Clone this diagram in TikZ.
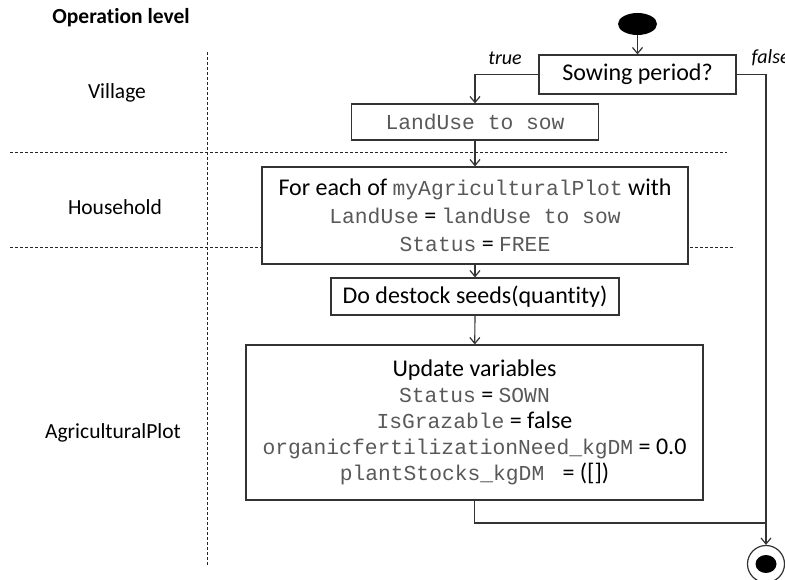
\documentclass[tikz,border=0pt]{standalone}
\usepackage{fontspec}
\setmainfont{Carlito}[Ligatures=NoCommon]
\setmonofont{Liberation Mono}
\usetikzlibrary{arrows.meta,shapes.geometric}

\newcommand{\cd}[1]{{\ttfamily\fontsize{21.3}{27}\selectfont\color{black!65}#1}}

\tikzset{
	actbox/.style={draw=black!80, line width=1.2pt, fill=white, inner sep=0pt, align=center, font=\fontsize{24}{28}\selectfont},
	lvl/.style={font=\fontsize{21.5}{26}\selectfont},
	guard/.style={font=\fontsize{20}{24}\selectfont\itshape},
	flow/.style={line width=1.2pt, draw=black!80, -{Straight Barb[length=6pt,width=10pt]}},
	wire/.style={line width=1.2pt, draw=black!80},
	sep/.style={dash pattern=on 3pt off 2pt, line width=0.8pt, draw=black!85},
}

\begin{document}
\begin{tikzpicture}[x=1pt,y=-1pt]

	\useasboundingbox (0,0) rectangle (785,580);

	% levels
	\node[lvl, font=\fontsize{21.5}{26}\selectfont\bfseries] (oplevel) at (121,18) {Operation level};
	\node[lvl] (village) at (117,93) {Village};
	\node[lvl] (household) at (115,207) {Household};
	\node[lvl] (agriplot) at (113,433) {AgriculturalPlot};

	\draw[sep] (207,52) -- (207,565);
	\draw[sep] (10,152) -- (727,152);
	\draw[sep] (10,247) -- (735,247);

	% activities
	\node[ellipse, fill=black, minimum width=39, minimum height=22, inner sep=0pt] (start) at (637.5,24) {};
	\node[actbox, minimum width=197, minimum height=39] (sow) at (637.5,74.5) {Sowing period?};
	\node[actbox, minimum width=247, minimum height=36] (landuse) at (475,122) {\cd{LandUse to sow}};
	\node[actbox, minimum width=426, minimum height=97] (foreach) at (475,215.5)
		{For each of \cd{myAgriculturalPlot} with\\
		 \cd{LandUse} = \cd{landUse to sow}\\
		 \cd{Status} = \cd{FREE}};
	\node[actbox, minimum width=288, minimum height=37] (destock) at (475,296.5) {Do destock seeds(quantity)};
	\node[actbox, minimum width=457, minimum height=155] (update) at (474.5,422.5)
		{Update variables\\[-2pt]
		 \cd{Status} = \cd{SOWN}\\[-2pt]
		 \cd{IsGrazable} = false\\[-2pt]
		 \cd{organicfertilizationNeed\_kgDM} = 0.0\\[-2pt]
		 \cd{plantStocks\_kgDM\ } = ([])};

	\node[circle, draw=black!80, line width=1.2pt, minimum size=37, inner sep=0pt] (final) at (766,564) {};
	\node[ellipse, fill=black, minimum width=21, minimum height=18, inner sep=0pt] (finaldot) at (final) {};
	\coordinate (join) at (766,523);

	\node[guard] (truelbl) at (505,58) {true};
	\node[guard, anchor=west] (falselbl) at (748,58) {false};

	% flows
	\draw[flow] (start) -- (sow);
	\draw[flow] (sow.west) -| (landuse.north);
	\draw[flow] (sow.east) -| (final.north);
	\draw[flow] (landuse) -- (foreach);
	\draw[flow] (foreach) -- (destock);
	\draw[flow] (destock) -- (update);
	\draw[wire] (update.south) |- (join);

\end{tikzpicture}
\end{document}
